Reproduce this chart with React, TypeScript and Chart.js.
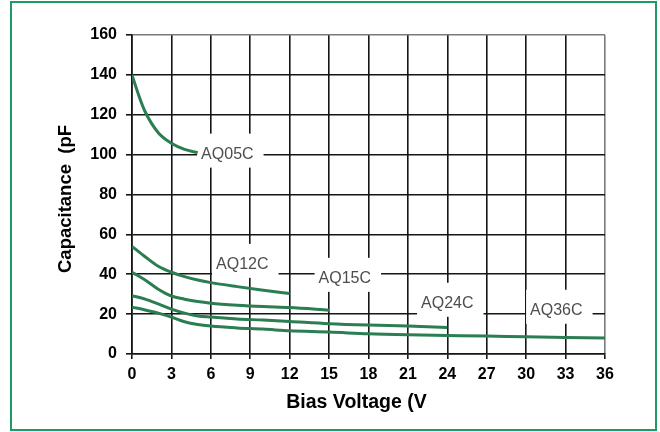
import React, { useEffect, useRef } from "react";
import { Chart, registerables } from "chart.js";

Chart.register(...registerables);

// ---- data ----
const xTicks = [0, 3, 6, 9, 12, 15, 18, 21, 24, 27, 30, 33, 36];
const yTicks = [0, 20, 40, 60, 80, 100, 120, 140, 160];

const aq05V = [0, 0.5, 1, 2, 3, 4, 5];
const aq05C = [140, 130, 121.5, 111, 105.7, 102.6, 101];

const aq12V = [0, 1, 2, 3, 4, 5, 6, 8, 10, 12];
const aq12C = [54, 48.8, 44, 41, 38.8, 37.1, 35.8, 33.8, 32, 30.3];

const aq15V = [0, 1, 2, 3, 4, 5, 6, 8, 10, 12, 15];
const aq15C = [41, 37.1, 32.5, 29.1, 27.5, 26.3, 25.5, 24.5, 23.8, 23.3, 22];

const aq24V = [0, 1, 2, 3, 4, 5, 6, 8, 10, 12, 15, 18, 21, 24];
const aq24C = [29.3, 27.5, 25.1, 22.5, 20.5, 19.1, 18.5, 17.6, 17, 16.3, 15.2, 14.5, 14, 13.3];

const aq36V = [0, 1, 2, 3, 4, 5, 6, 8, 10, 12, 15, 18, 21, 24, 27, 30, 33, 36];
const aq36C = [23.5, 22.1, 20.5, 18.5, 16.2, 14.8, 14, 13.1, 12.5, 11.6, 11, 10.1, 9.6, 9.3, 9, 8.6, 8.3, 8];

const seriesNames = ["AQ05C", "AQ12C", "AQ15C", "AQ24C", "AQ36C"];
// label anchor (text left edge, vertical middle) in data units
const labelV = [5.26, 6.4, 14.2, 22.0, 30.3];
const labelC = [100, 44.7, 37.7, 25.2, 21.7];

const xTitle = "Bias Voltage (V";
const yTitle = "Capacitance  (pF";

const LINE_COLOR = "#2b7d52";
const GRID_COLOR = "#151515";
const EDGE_COLOR = "#7a7a7a";
const FONT = "'Liberation Sans', Arial, sans-serif";

const toPoints = (v: number[], c: number[]) => v.map((x, i) => ({ x, y: c[i] }));

const labelPlugin = {
  id: "curveLabels",
  beforeDatasetsDraw(chart: any) {
    const { ctx, scales } = chart;
    ctx.save();
    ctx.font = `16px ${FONT}`;
    seriesNames.forEach((name, i) => {
      const x0 = scales.x.getPixelForValue(labelV[i]);
      const yc = scales.y.getPixelForValue(labelC[i]);
      const w = ctx.measureText(name).width;
      ctx.fillStyle = "#ffffff";
      ctx.fillRect(x0 - 4, yc - 21, w + 14, 34);
    });
    ctx.restore();
  },
  afterDatasetsDraw(chart: any) {
    const { ctx, scales, chartArea } = chart;
    ctx.save();
    ctx.font = `16px ${FONT}`;
    ctx.fillStyle = "#4d4d4d";
    ctx.textAlign = "left";
    ctx.textBaseline = "middle";
    seriesNames.forEach((name, i) => {
      const x0 = scales.x.getPixelForValue(labelV[i]);
      const yc = scales.y.getPixelForValue(labelC[i]);
      ctx.fillText(name, x0, yc);
    });
    // axis titles
    ctx.fillStyle = "#000000";
    ctx.font = `bold 19.5px ${FONT}`;
    ctx.textAlign = "center";
    ctx.fillText(xTitle, (chartArea.left + chartArea.right) / 2 - 12, chartArea.bottom + 49);
    ctx.font = `bold 18.5px ${FONT}`;
    ctx.translate(chartArea.left - 66, (chartArea.top + chartArea.bottom) / 2 + 4.5);
    ctx.rotate(-Math.PI / 2);
    ctx.fillText(yTitle, 0, 0);
    ctx.restore();
  },
};

export default function App() {
  const canvasRef = useRef<HTMLCanvasElement | null>(null);

  useEffect(() => {
    document.body.style.margin = "0";
    const canvas = canvasRef.current;
    if (!canvas) return;
    const mk = (v: number[], c: number[]) => ({
      data: toPoints(v, c),
      borderColor: LINE_COLOR,
      borderWidth: 3,
      pointRadius: 0,
      fill: false,
      cubicInterpolationMode: "monotone" as const,
    });
    const chart = new Chart(canvas, {
      type: "line",
      data: {
        datasets: [
          mk(aq05V, aq05C),
          mk(aq12V, aq12C),
          mk(aq15V, aq15C),
          mk(aq24V, aq24C),
          mk(aq36V, aq36C),
        ],
      },
      options: {
        animation: false,
        responsive: false,
        devicePixelRatio: 1,
        layout: { padding: { left: 0, top: 35, right: 55, bottom: 0 } },
        plugins: {
          legend: { display: false },
          tooltip: { enabled: false },
        },
        scales: {
          x: {
            type: "linear",
            min: 0,
            max: 36,
            afterBuildTicks: (s: any) => {
              s.ticks = xTicks.map((value) => ({ value }));
            },
            afterFit: (s: any) => {
              s.height = 78;
            },
            ticks: {
              color: "#000",
              font: { family: FONT, size: 16, weight: "bold" },
              padding: 6,
              maxRotation: 0,
              autoSkip: false,
            },
            grid: {
              color: (c: any) => (c.tick && c.tick.value === 36 ? EDGE_COLOR : GRID_COLOR),
              lineWidth: 1.6,
              tickLength: 5,
              tickColor: GRID_COLOR,
            },
            border: { color: GRID_COLOR, width: 1.6 },
          },
          y: {
            type: "linear",
            min: 0,
            max: 160,
            afterBuildTicks: (s: any) => {
              s.ticks = yTicks.map((value) => ({ value }));
            },
            afterFit: (s: any) => {
              s.width = 132;
            },
            ticks: {
              color: "#000",
              font: { family: FONT, size: 16, weight: "bold" },
              padding: 9,
              autoSkip: false,
            },
            grid: {
              color: (c: any) => (c.tick && c.tick.value === 160 ? EDGE_COLOR : GRID_COLOR),
              lineWidth: 1.6,
              tickLength: 6,
              tickColor: GRID_COLOR,
            },
            border: { color: GRID_COLOR, width: 1.6 },
          },
        },
      },
      plugins: [labelPlugin],
    });
    return () => chart.destroy();
  }, []);

  return (
    <div style={{ position: "relative", width: 660, height: 432, background: "#fff" }}>
      <canvas ref={canvasRef} width={660} height={432} style={{ position: "absolute", left: 0, top: 0 }} />
      <div
        style={{
          position: "absolute",
          left: 10,
          top: 1,
          width: 647,
          height: 430,
          boxSizing: "border-box",
          border: "2px solid #1e9a68",
          pointerEvents: "none",
        }}
      />
    </div>
  );
}
